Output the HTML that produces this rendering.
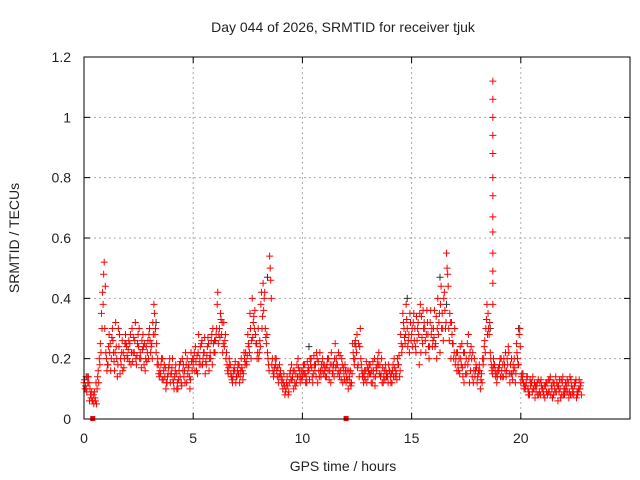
<!DOCTYPE html>
<html><head><meta charset="utf-8"><style>
body{margin:0;background:#fff}
svg{display:block;font-family:"Liberation Sans",sans-serif}
</style></head><body>
<svg id="c" width="640" height="480">
<text x="343" y="32" text-anchor="middle" font-size="14" fill="#222">Day 044 of 2026, SRMTID for receiver tjuk</text>
<text transform="translate(19,238) rotate(-90)" text-anchor="middle" font-size="14" fill="#222">SRMTID / TECUs</text>
<text x="343" y="471" text-anchor="middle" font-size="14" fill="#222">GPS time / hours</text>
<g id="grid"></g>
<g id="ticks"></g>
<g id="pts"></g>
<rect x="84" y="57" width="546" height="362" fill="none" stroke="#000" stroke-width="1"/>
</svg>
<script>
const xTicks=[0,5,10,15,20];
const yTicks=[0,0.2,0.4,0.6,0.8,1,1.2];
const yTickLabels=["0","0.2","0.4","0.6","0.8","1","1.2"];
const v1=[.12,.10,.14,.08,.06,.07,.10,.20,.35,.48,
.22,.18,.25,.30,.16,.20,.24,.18,.22,.28,
.20,.25,.30,.22,.18,.24,.20,.28,.16,.22,
.30,.25,.38,.22,.18,.15,.20,.14,.12,.18,
.15,.12,.18,.10,.14,.20,.16,.12,.18,.22,
.18,.24,.15,.20,.26,.22,.18,.25,.20,.30,
.22,.38,.30,.28,.32,.20,.15,.18,.12,.16,
.14,.18,.20,.15,.22,.28,.35,.40,.30,.25,
.20,.38,.45,.30,.22,.54,.18,.15,.20,.12,
.16,.10,.08,.14,.12,.18,.10,.15,.20,.12,
.14,.18,.12,.16,.20,.15,.18,.12,.22,.16,
.18,.14,.20,.12,.16,.25,.18,.14,.20,.15,
.12,.10,.16,.25,.20,.28,.14,.18,.12,.16,
.14,.18,.12,.20,.16,.22,.15,.12,.18,.14,
.16,.12,.20,.15,.18,.28,.35,.25,.30,.22,
.28,.35,.22,.32,.38,.25,.30,.36,.20,.28,
.30,.25,.40,.22,.35,.42,.55,.30,.20,.25,
.18,.22,.15,.25,.12,.20,.28,.16,.22,.14,
.12,.18,.15,.20,.30,.35,.22,.15,.18,.12,
.16,.20,.14,.22,.18,.12,.15,.20,.25,.18,
.12,.15,.10,.14,.08,.12,.10,.09,.13,.08,
.10,.07,.12,.09,.11,.08,.14,.06,.10,.12,
.08,.11,.07,.13,.09,.12,.08,.10];
const v2=[.10,.14,.06,.09,.05,.12,.16,.25,.42,.30,
.16,.28,.20,.22,.32,.18,.15,.26,.20,.24,
.26,.18,.22,.32,.25,.20,.26,.18,.24,.20,
.22,.32,.28,.18,.14,.20,.16,.10,.15,.12,
.20,.14,.10,.16,.12,.18,.22,.15,.10,.16,
.22,.16,.28,.18,.20,.15,.24,.20,.28,.22,
.28,.25,.35,.22,.26,.18,.20,.14,.16,.12,
.18,.14,.16,.20,.18,.24,.20,.32,.28,.22,
.26,.30,.40,.25,.18,.46,.16,.20,.14,.18,
.12,.15,.10,.08,.16,.14,.12,.18,.14,.16,
.18,.12,.16,.20,.14,.18,.22,.16,.14,.18,
.14,.20,.16,.18,.14,.20,.22,.16,.12,.18,
.16,.14,.12,.20,.24,.18,.30,.14,.16,.12,
.18,.12,.16,.14,.20,.18,.12,.16,.14,.18,
.12,.18,.14,.20,.14,.22,.30,.38,.26,.32,
.24,.30,.26,.18,.34,.30,.22,.28,.32,.24,
.36,.20,.32,.44,.26,.30,.48,.35,.28,.22,
.22,.16,.20,.14,.18,.25,.12,.20,.16,.18,
.15,.10,.20,.26,.38,.28,.18,.20,.14,.16,
.20,.14,.18,.16,.22,.15,.18,.12,.20,.30,
.15,.10,.12,.08,.11,.14,.07,.12,.09,.11,
.08,.12,.09,.14,.07,.10,.12,.09,.13,.08,
.12,.09,.14,.08,.11,.07,.10,.12];
const v3=[.13,.09,.12,.07,.08,.06,.14,.18,.30,.52,
.20,.24,.16,.26,.22,.14,.28,.22,.17,.25,
.23,.28,.19,.26,.21,.30,.17,.24,.20,.26,
.26,.20,.35,.25,.15,.18,.13,.17,.14,.20,
.17,.10,.15,.13,.19,.16,.12,.20,.14,.19,
.20,.19,.22,.24,.18,.27,.21,.16,.26,.25,
.26,.42,.27,.32,.24,.22,.17,.15,.14,.19,
.16,.12,.17,.22,.19,.25,.30,.27,.36,.20,
.22,.42,.36,.27,.20,.50,.20,.17,.16,.14,
.14,.12,.09,.11,.15,.13,.16,.12,.17,.14,
.16,.15,.19,.13,.17,.21,.14,.19,.16,.20,
.16,.18,.13,.22,.18,.17,.15,.21,.18,.13,
.14,.16,.11,.22,.26,.17,.24,.16,.14,.19,
.16,.15,.19,.11,.18,.15,.20,.14,.16,.12,
.14,.16,.17,.13,.21,.25,.32,.28,.24,.35,
.30,.26,.34,.28,.22,.36,.26,.32,.24,.30,
.27,.34,.28,.38,.30,.36,.50,.26,.32,.20,
.20,.18,.24,.17,.22,.15,.20,.24,.12,.16,
.14,.16,.12,.24,.33,.30,.20,.17,.16,.14,
.18,.16,.20,.14,.24,.18,.13,.17,.22,.28,
.14,.12,.11,.10,.13,.09,.12,.11,.08,.13,
.09,.11,.08,.13,.10,.12,.09,.11,.07,.14,
.10,.13,.09,.11,.08,.13,.09,.11];
const v4=[.11,.12,.10,.06,.09,.05,.12,.22,.38,.44,
.18,.22,.27,.19,.24,.30,.20,.16,.25,.21,
.19,.22,.27,.20,.28,.22,.23,.25,.19,.28,
.24,.28,.30,.20,.16,.13,.18,.12,.17,.15,
.13,.16,.12,.18,.11,.14,.18,.17,.13,.20,
.16,.21,.18,.25,.22,.19,.27,.22,.18,.26,
.30,.28,.33,.25,.28,.16,.18,.13,.17,.14,
.15,.16,.13,.18,.21,.22,.26,.34,.25,.30,
.24,.34,.42,.28,.16,.40,.14,.18,.17,.15,
.13,.11,.12,.09,.13,.16,.11,.14,.16,.13,
.15,.14,.17,.18,.12,.16,.20,.14,.18,.15,
.17,.16,.18,.15,.20,.18,.16,.13,.17,.16,
.13,.12,.15,.18,.22,.25,.20,.15,.13,.17,
.15,.16,.14,.17,.18,.14,.17,.13,.15,.16,
.15,.14,.16,.18,.16,.24,.27,.33,.28,.26,
.32,.24,.30,.35,.27,.32,.28,.24,.36,.26,
.24,.30,.35,.30,.40,.32,.44,.32,.25,.30,
.16,.20,.18,.22,.15,.18,.22,.14,.20,.17,
.16,.13,.18,.22,.28,.32,.16,.18,.15,.17,
.14,.18,.16,.20,.15,.20,.16,.15,.18,.24,
.13,.11,.14,.09,.12,.10,.11,.08,.12,.10,
.11,.09,.13,.08,.12,.09,.11,.13,.08,.10,
.09,.12,.08,.10,.12,.09,.13,.08];
const spikeT=18.72;
const spikeV=[1.12,1.06,1.0,0.94,0.88,0.8,0.74,0.67,0.62,0.55,0.49,0.45,0.38];
const darkT=[0.1,3.3,8.4,10.3,12.4,14.8,16.3,16.6,18.6,19.9];
const darkV=[0.14,0.32,0.47,0.24,0.25,0.40,0.47,0.38,0.30,0.30];
const zeroT=[0.4,12.0];
const X=t=>84+t*546/25, Y=v=>419-v*362/1.2;
const NS='http://www.w3.org/2000/svg';
const g=document.getElementById('grid'),tk=document.getElementById('ticks'),P=document.getElementById('pts'),svg=document.getElementById('c');
function mk(tag,a,parent){const e=document.createElementNS(NS,tag);for(const k in a)e.setAttribute(k,a[k]);parent.appendChild(e);return e;}
xTicks.forEach(t=>{const x=X(t);
 if(t>0){const l=mk('line',{x1:x,x2:x,y1:57,y2:419,stroke:'#aaa','stroke-dasharray':'2,3'},g);}
 const a=mk('path',{d:`M${x},419v-6M${x},57v6`,stroke:'#000'},tk);
 const s=mk('text',{x:x,y:443,'text-anchor':'middle','font-size':'14',fill:'#222'},svg);s.textContent=t;
 });
yTicks.forEach((v,i)=>{const y=Y(v);
 if(v>0&&v<1.2){const l=mk('line',{x1:84,x2:630,y1:y,y2:y,stroke:'#aaa','stroke-dasharray':'2,3'},g);}
 const a=mk('path',{d:`M84,${y}h6M630,${y}h-6`,stroke:'#000'},tk);
 const s=mk('text',{x:71,y:y+5,'text-anchor':'end','font-size':'14',fill:'#222'},svg);s.textContent=yTickLabels[i];
 });
function plus(t,v,c,name){const x=X(t),y=Y(v);const p=mk('path',{d:`M${x-3.5},${y}h7M${x},${y-3.5}v7`,stroke:c,'stroke-width':'1'},P);
 
 }
darkT.forEach((t,i)=>plus(t,darkV[i],'#333','dark-point'));
v1.forEach((v,i)=>plus(i*0.1,v,'#f00','srmtid-point'));
v2.forEach((v,i)=>plus(i*0.1+0.05,v,'#f00','srmtid-point'));
v3.forEach((v,i)=>plus(i*0.1+0.025,v,'#f00','srmtid-point'));
v4.forEach((v,i)=>plus(i*0.1+0.075,v,'#f00','srmtid-point'));
spikeV.forEach(v=>plus(spikeT,v,'#f00','spike-point'));
zeroT.forEach(t=>{const r=mk('rect',{x:X(t)-2.5,y:416,width:5,height:5,fill:'#f00'},P);
 
 });
</script>
</body></html>
